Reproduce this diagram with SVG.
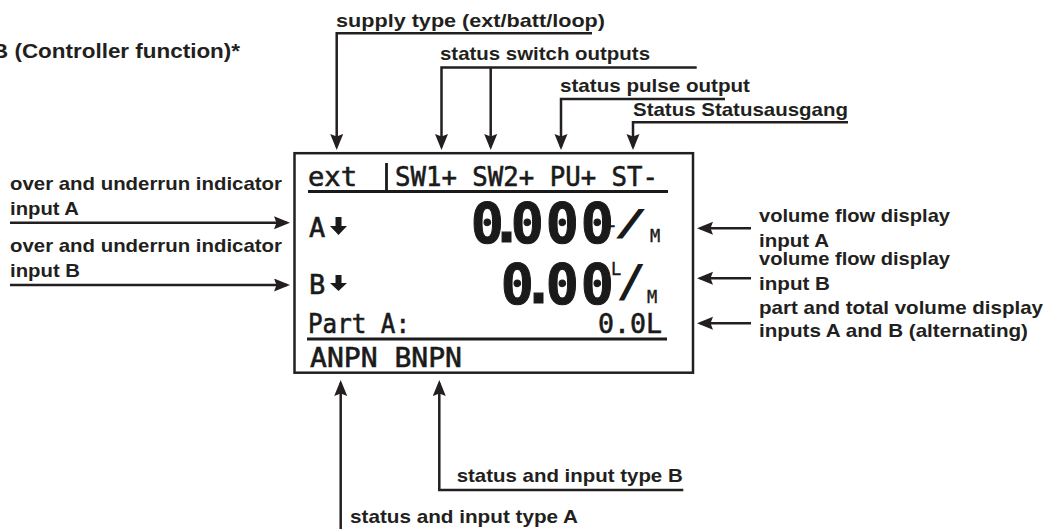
<svg xmlns="http://www.w3.org/2000/svg" width="1050" height="529" viewBox="0 0 1050 529">
<defs>
<style>
.lbl{font-family:"Liberation Sans",Arial,sans-serif;font-weight:bold;font-size:18.5px;fill:#231f20}
.ttl{font-family:"Liberation Sans",Arial,sans-serif;font-weight:bold;font-size:20px;fill:#231f20}
.lcd{font-family:"DejaVu Sans Mono","Liberation Mono",monospace;font-size:27px;fill:#1a1a1a;stroke:#1a1a1a;stroke-width:0.6}
.big{font-family:"DejaVu Sans Mono","Liberation Mono",monospace;font-weight:bold;font-size:55px;fill:#1a1a1a;stroke:#1a1a1a;stroke-width:1}
.sm{font-family:"DejaVu Sans Mono","Liberation Mono",monospace;font-size:17px;fill:#1a1a1a;stroke:#1a1a1a;stroke-width:0.4}
.sl{font-family:"DejaVu Sans Mono","Liberation Mono",monospace;font-weight:bold;fill:#1a1a1a}
.con{fill:none;stroke:#231f20;stroke-width:2.5}
.rule{stroke:#1a1a1a;stroke-width:2.8}
.box{fill:#fff;stroke:#231f20;stroke-width:2.5}
</style>
<marker id="ah" markerUnits="userSpaceOnUse" markerWidth="18" markerHeight="14" refX="13" refY="6.5" orient="auto">
<path d="M0,0 L16,6.5 L0,13 L2.5,6.5 Z" fill="#231f20"/>
</marker>
</defs>
<rect width="1050" height="529" fill="#fff"/>

<text class="ttl" x="-8" y="58" textLength="248" lengthAdjust="spacingAndGlyphs">B (Controller function)*</text>

<g id="display">
<rect class="box" x="294.5" y="153.2" width="398.5" height="219.5"/>
<text class="lcd" x="308" y="186" textLength="49" lengthAdjust="spacingAndGlyphs">ext</text>
<line class="rule" x1="386.5" y1="163" x2="386.5" y2="192"/>
<text class="lcd" x="395" y="186" textLength="263" lengthAdjust="spacingAndGlyphs">SW1+ SW2+ PU+ ST-</text>
<line class="rule" x1="308" y1="191.5" x2="668" y2="191.5"/>
<text class="lcd" x="309" y="236.5">A</text>
<polygon points="335.5,217 341.5,217 341.5,226 347,226 338.5,235 330,226 335.5,226" fill="#1a1a1a"/>
<text class="sm" x="605" y="227">L</text>
<text class="big" x="470.7 490 510.7 545.7 580.7" y="241.7">0.000</text>
<text class="sl" x="613" y="235" font-size="36" textLength="35" lengthAdjust="spacingAndGlyphs">/</text>
<text class="sm" x="650" y="241.7">M</text>
<text class="lcd" x="309" y="293.5">B</text>
<polygon points="335.5,275 341.5,275 341.5,283 347,283 338.5,291 330,283 335.5,283" fill="#1a1a1a"/>
<text class="big" x="500.7 522 545.7 580.7" y="303.3">0.00</text>
<text class="sm" x="611" y="275">L</text>
<text class="sl" x="616" y="297" font-size="45" textLength="30" lengthAdjust="spacingAndGlyphs">/</text>
<text class="sm" x="647" y="303">M</text>
<text class="lcd" x="308" y="333.3" textLength="102" lengthAdjust="spacingAndGlyphs">Part A:</text>
<text class="lcd" x="598" y="333.3" textLength="64" lengthAdjust="spacingAndGlyphs">0.0L</text>
<line class="rule" x1="307" y1="339" x2="667" y2="339"/>
<text class="lcd" x="310" y="366.7" textLength="152" lengthAdjust="spacingAndGlyphs">ANPN BNPN</text>
</g>

<g id="label-supply"><text class="lbl" x="336" y="26.5" textLength="269" lengthAdjust="spacingAndGlyphs">supply type (ext/batt/loop)</text></g>
<g id="label-switch"><text class="lbl" x="440" y="60" textLength="210" lengthAdjust="spacingAndGlyphs">status switch outputs</text></g>
<g id="label-pulse"><text class="lbl" x="560" y="92" textLength="190" lengthAdjust="spacingAndGlyphs">status pulse output</text></g>
<g id="label-status"><text class="lbl" x="633" y="116" textLength="215" lengthAdjust="spacingAndGlyphs">Status Statusausgang</text></g>
<g id="label-overA">
<text class="lbl" x="10" y="190" textLength="272" lengthAdjust="spacingAndGlyphs">over and underrun indicator</text>
<text class="lbl" x="10" y="215" textLength="69" lengthAdjust="spacingAndGlyphs">input A</text>
</g>
<g id="label-overB">
<text class="lbl" x="10" y="252" textLength="272" lengthAdjust="spacingAndGlyphs">over and underrun indicator</text>
<text class="lbl" x="10" y="277" textLength="70" lengthAdjust="spacingAndGlyphs">input B</text>
</g>
<g id="label-flowA">
<text class="lbl" x="759" y="222" textLength="191" lengthAdjust="spacingAndGlyphs">volume flow display</text>
<text class="lbl" x="759" y="246.7" textLength="70" lengthAdjust="spacingAndGlyphs">input A</text>
</g>
<g id="label-flowB">
<text class="lbl" x="759" y="265" textLength="191" lengthAdjust="spacingAndGlyphs">volume flow display</text>
<text class="lbl" x="759" y="290" textLength="71" lengthAdjust="spacingAndGlyphs">input B</text>
</g>
<g id="label-volume">
<text class="lbl" x="759" y="314" textLength="284" lengthAdjust="spacingAndGlyphs">part and total volume display</text>
<text class="lbl" x="759" y="337" textLength="269" lengthAdjust="spacingAndGlyphs">inputs A and B (alternating)</text>
</g>
<g id="label-typeB"><text class="lbl" x="456.7" y="481.7" textLength="226" lengthAdjust="spacingAndGlyphs">status and input type B</text></g>
<g id="label-typeA"><text class="lbl" x="350" y="523" textLength="228" lengthAdjust="spacingAndGlyphs">status and input type A</text></g>

<g id="connectors">
<path class="con" d="M592,33.3 H336.7 V147" marker-end="url(#ah)"/>
<path class="con" d="M696.7,67.5 H441.5 V147" marker-end="url(#ah)"/>
<path class="con" d="M490.7,67.5 V147" marker-end="url(#ah)"/>
<path class="con" d="M725,99 H561 V147" marker-end="url(#ah)"/>
<path class="con" d="M848,122.3 H633 V147" marker-end="url(#ah)"/>
<path class="con" d="M10,222.7 H287" marker-end="url(#ah)"/>
<path class="con" d="M10,285 H287" marker-end="url(#ah)"/>
<path class="con" d="M751,228.3 H700" marker-end="url(#ah)"/>
<path class="con" d="M751,278.3 H700" marker-end="url(#ah)"/>
<path class="con" d="M751,323.3 H700" marker-end="url(#ah)"/>
<path class="con" d="M340.7,529 V383" marker-end="url(#ah)"/>
<path class="con" d="M683.3,490 H439.3 V383" marker-end="url(#ah)"/>
</g>
</svg>
